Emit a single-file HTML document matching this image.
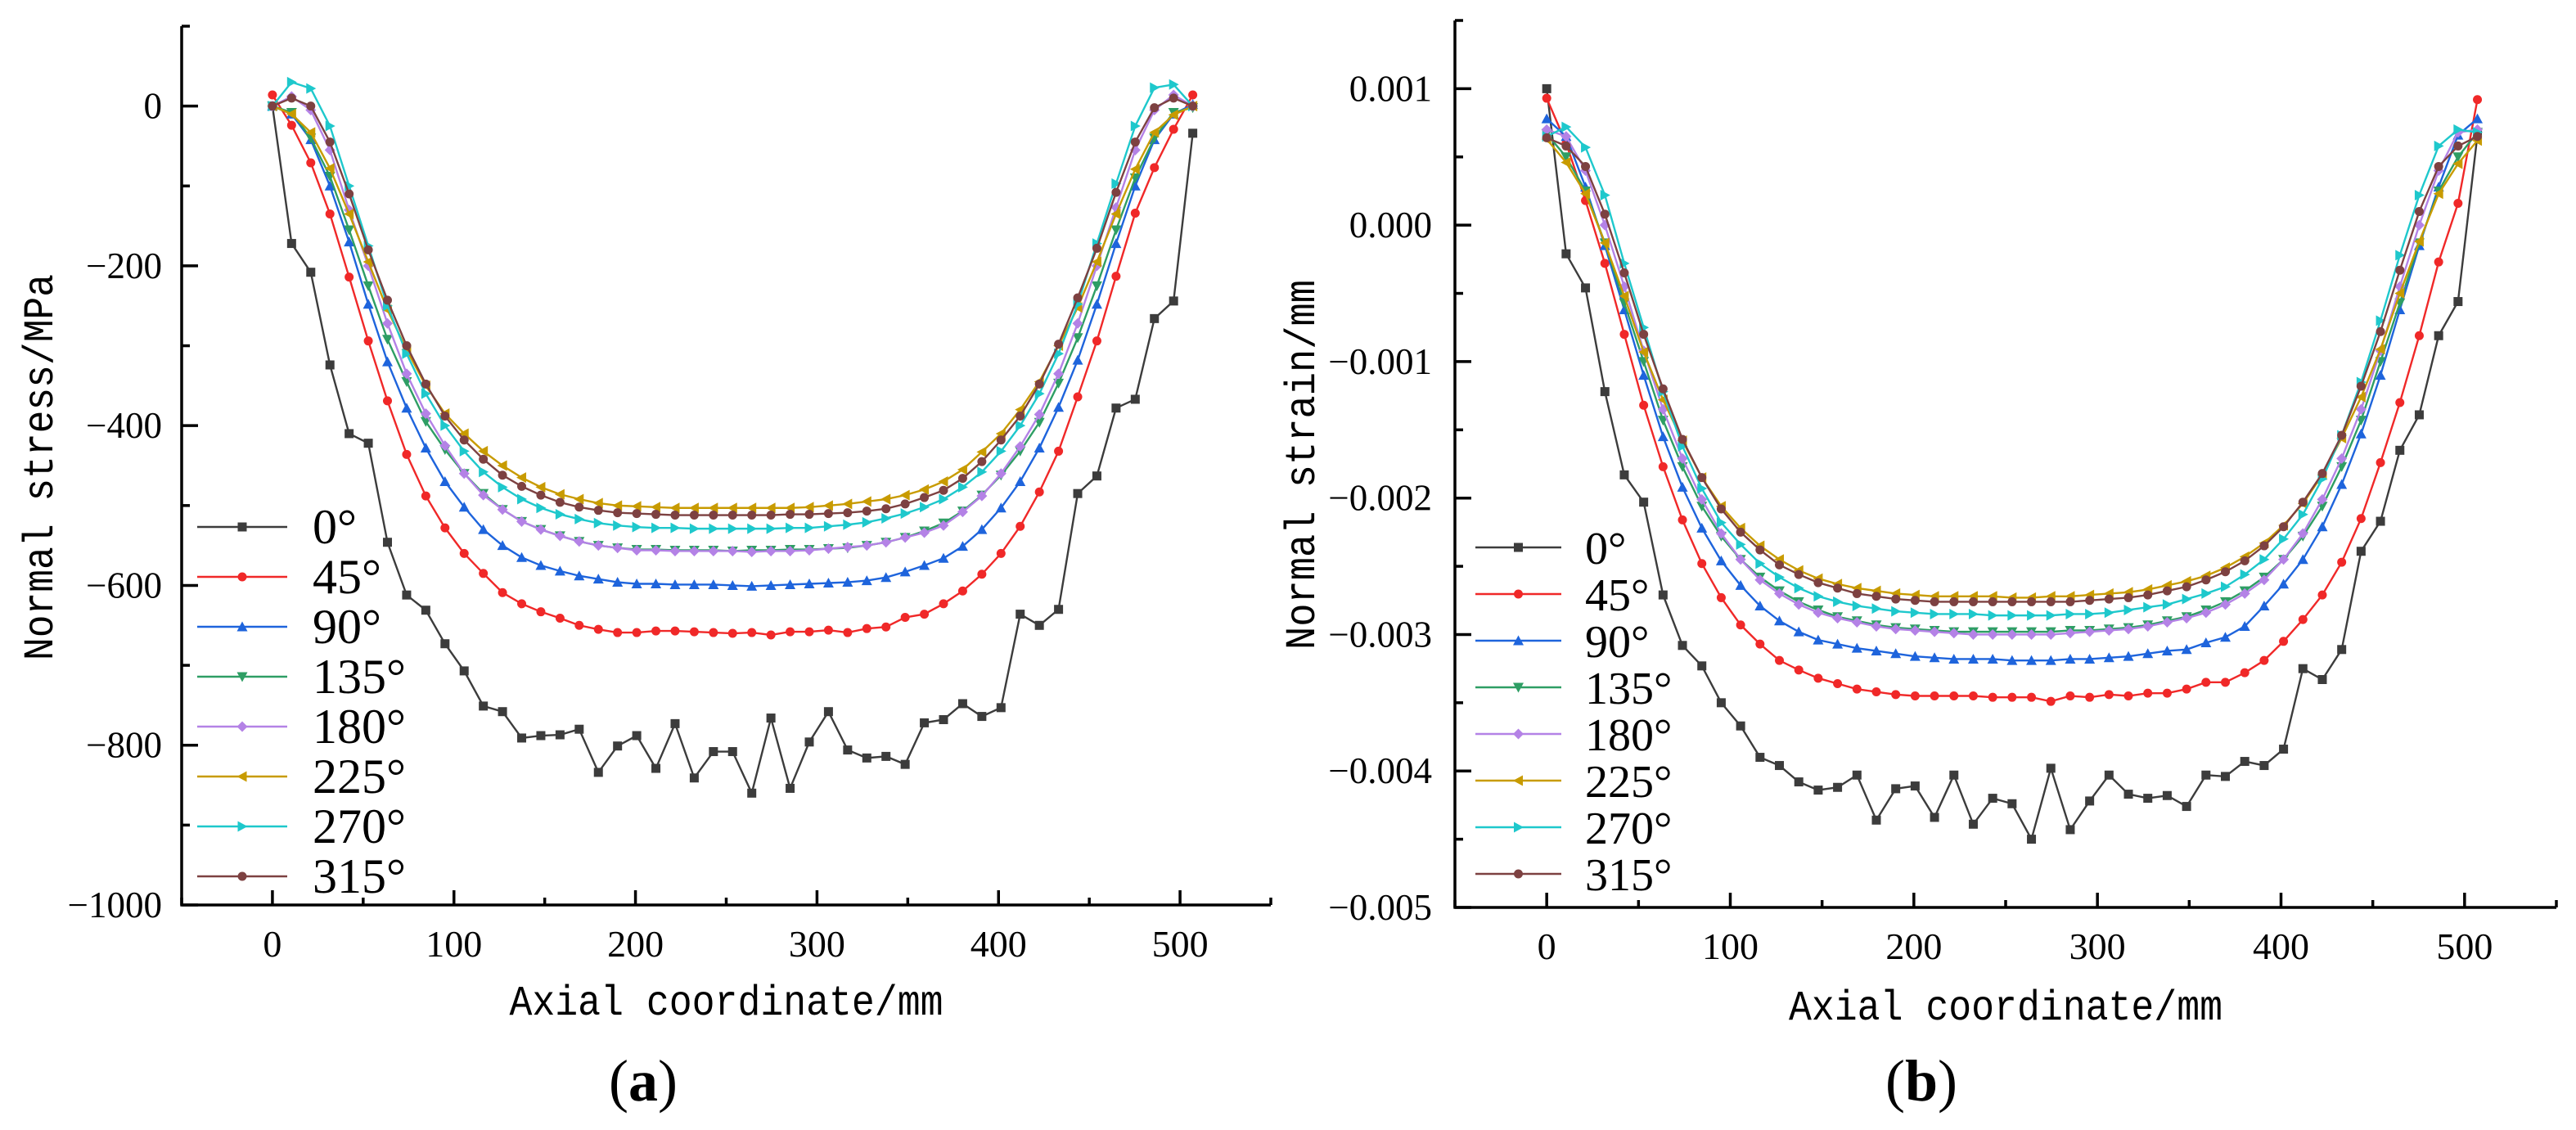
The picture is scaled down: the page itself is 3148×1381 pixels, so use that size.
<!DOCTYPE html>
<html><head><meta charset="utf-8"><style>
html,body{margin:0;padding:0;background:#fff;overflow:hidden;}
svg{display:block;}
text{font-family:"Liberation Serif",serif;fill:#000;}
.mono{font-family:"Liberation Mono",monospace;}
</style></head><body>
<svg id="fig" width="3148" height="1381" viewBox="0 0 3148 1381" xmlns="http://www.w3.org/2000/svg"></svg>
<script>
const xs = Array.from({length:49},(_, i)=>i*507/48);
const seriesNames = ["0°","45°","90°","135°","180°","225°","270°","315°"];
const xTicks = [0,100,200,300,400,500];
const stressTicks = [0,-200,-400,-600,-800,-1000];
const stressTickLabels = ["0","−200","−400","−600","−800","−1000"];
const strainTicks = [0.001,0,-0.001,-0.002,-0.003,-0.004,-0.005];
const strainTickLabels = ["0.001","0.000","−0.001","−0.002","−0.003","−0.004","−0.005"];

const s0=[0,-172,-208,-324,-410,-422,-546,-612,-631,-673,-707,-751,-758,-791,-788,-787,-780,-834,-801,-788,-829,-773,-841,-808,-808,-860,-766,-854,-796,-758,-806,-816,-814,-824,-772,-768,-748,-764,-753,-636,-650,-630,-485,-463,-378,-367,-266,-244,-34];
const s45=[14,-24,-71,-135,-214,-294,-369,-436,-488,-528,-560,-585,-609,-623,-633,-641,-650,-655,-659,-659,-657,-657,-658,-659,-660,-659,-662,-658,-658,-656,-659,-654,-652,-640,-636,-623,-607,-586,-560,-526,-483,-432,-364,-294,-213,-134,-77,-29,14];
const s90=[0,-10,-42,-100,-170,-248,-320,-378,-428,-470,-502,-530,-550,-565,-575,-582,-588,-592,-596,-598,-598,-599,-599,-599,-600,-601,-600,-599,-598,-597,-596,-594,-590,-583,-575,-566,-551,-530,-503,-470,-428,-377,-318,-248,-172,-100,-42,-10,2];
const s135=[0,-8,-40,-88,-155,-225,-292,-345,-395,-430,-460,-485,-505,-520,-530,-538,-545,-550,-553,-555,-555,-556,-556,-556,-557,-556,-556,-555,-555,-554,-553,-550,-546,-540,-532,-522,-507,-487,-462,-432,-396,-347,-290,-225,-155,-90,-40,-8,-2];
const s180=[0,12,-5,-55,-130,-200,-272,-335,-385,-425,-460,-487,-505,-520,-530,-538,-545,-550,-553,-556,-556,-557,-557,-557,-557,-558,-557,-557,-556,-554,-552,-550,-546,-540,-534,-525,-508,-488,-460,-426,-386,-335,-272,-200,-127,-55,-5,14,0];
const s225=[0,-10,-33,-78,-135,-195,-255,-305,-350,-385,-410,-432,-450,-465,-477,-486,-492,-497,-500,-501,-502,-503,-503,-503,-503,-503,-503,-503,-502,-500,-498,-495,-492,-487,-480,-470,-455,-433,-410,-380,-345,-300,-252,-195,-135,-79,-33,-11,0];
const s270=[0,30,22,-25,-100,-175,-250,-310,-360,-400,-432,-458,-477,-492,-503,-511,-517,-522,-525,-527,-528,-528,-529,-529,-529,-529,-529,-528,-528,-526,-524,-521,-516,-510,-502,-492,-477,-458,-432,-400,-360,-310,-248,-172,-97,-25,23,27,0];
const s315=[0,10,0,-45,-110,-180,-243,-300,-348,-388,-418,-442,-462,-476,-487,-496,-502,-506,-509,-510,-511,-512,-512,-512,-512,-512,-512,-511,-511,-510,-509,-507,-504,-498,-490,-481,-466,-445,-418,-388,-348,-298,-240,-178,-108,-45,-2,10,0];

const e0=[0.001,-0.00021,-0.00046,-0.00122,-0.00183,-0.00203,-0.00271,-0.00308,-0.00323,-0.0035,-0.00367,-0.0039,-0.00396,-0.00408,-0.00414,-0.00412,-0.00403,-0.00436,-0.00413,-0.00411,-0.00434,-0.00403,-0.00439,-0.0042,-0.00424,-0.0045,-0.00398,-0.00443,-0.00422,-0.00403,-0.00417,-0.0042,-0.00418,-0.00426,-0.00403,-0.00404,-0.00393,-0.00396,-0.00384,-0.00325,-0.00333,-0.00311,-0.00239,-0.00217,-0.00165,-0.00139,-0.00081,-0.00056,0.00066];
const e45=[0.00093,0.0006,0.00018,-0.00028,-0.0008,-0.00132,-0.00177,-0.00216,-0.00248,-0.00273,-0.00293,-0.00307,-0.00319,-0.00326,-0.00332,-0.00336,-0.0034,-0.00342,-0.00344,-0.00345,-0.00345,-0.00345,-0.00345,-0.00346,-0.00346,-0.00346,-0.00349,-0.00345,-0.00346,-0.00344,-0.00345,-0.00343,-0.00343,-0.0034,-0.00335,-0.00335,-0.00328,-0.00319,-0.00305,-0.00289,-0.00271,-0.00247,-0.00215,-0.00174,-0.0013,-0.00081,-0.00027,0.00016,0.00092];
const e90=[0.00078,0.00065,0.00028,-0.00015,-0.00062,-0.0011,-0.00155,-0.00192,-0.00222,-0.00246,-0.00264,-0.00279,-0.0029,-0.00298,-0.00304,-0.00307,-0.0031,-0.00312,-0.00314,-0.00316,-0.00317,-0.00318,-0.00318,-0.00318,-0.00319,-0.00319,-0.00319,-0.00318,-0.00318,-0.00317,-0.00316,-0.00314,-0.00312,-0.00311,-0.00306,-0.00302,-0.00294,-0.00279,-0.00263,-0.00245,-0.00221,-0.0019,-0.00153,-0.0011,-0.00062,-0.00015,0.00028,0.00066,0.00078];
const e135=[0.00067,0.0005,0.00025,-0.00013,-0.00057,-0.001,-0.00143,-0.00177,-0.00206,-0.00228,-0.00245,-0.00258,-0.00268,-0.00276,-0.00282,-0.00287,-0.0029,-0.00293,-0.00295,-0.00296,-0.00297,-0.00298,-0.00298,-0.00298,-0.00298,-0.00298,-0.00298,-0.00297,-0.00297,-0.00296,-0.00295,-0.00293,-0.0029,-0.00287,-0.00282,-0.00276,-0.00268,-0.00258,-0.00245,-0.00228,-0.00206,-0.00177,-0.00143,-0.001,-0.00057,-0.00013,0.00025,0.0005,0.00068];
const e180=[0.0007,0.00065,0.0004,0.0,-0.00045,-0.00092,-0.00135,-0.00171,-0.00201,-0.00226,-0.00245,-0.0026,-0.0027,-0.00278,-0.00284,-0.00288,-0.00291,-0.00294,-0.00296,-0.00297,-0.00298,-0.00299,-0.003,-0.003,-0.003,-0.003,-0.003,-0.00299,-0.00298,-0.00297,-0.00296,-0.00294,-0.00291,-0.00288,-0.00284,-0.00278,-0.0027,-0.0026,-0.00245,-0.00226,-0.00201,-0.00171,-0.00135,-0.00092,-0.00045,0.0,0.0004,0.00068,0.0007];
const e225=[0.00063,0.00046,0.00023,-0.00013,-0.00052,-0.00093,-0.00128,-0.00158,-0.00185,-0.00206,-0.00222,-0.00235,-0.00245,-0.00253,-0.00259,-0.00263,-0.00266,-0.00268,-0.0027,-0.00271,-0.00272,-0.00272,-0.00272,-0.00272,-0.00273,-0.00273,-0.00272,-0.00272,-0.00271,-0.0027,-0.00269,-0.00267,-0.00264,-0.00261,-0.00257,-0.00251,-0.00243,-0.00233,-0.0022,-0.00204,-0.00183,-0.00156,-0.00126,-0.00091,-0.0005,-0.00012,0.00023,0.00045,0.00062];
const e270=[0.00065,0.00072,0.00057,0.00022,-0.00028,-0.00075,-0.00122,-0.00162,-0.00193,-0.00218,-0.00234,-0.00248,-0.00258,-0.00266,-0.00272,-0.00276,-0.00279,-0.00281,-0.00283,-0.00284,-0.00285,-0.00285,-0.00285,-0.00286,-0.00286,-0.00286,-0.00286,-0.00285,-0.00285,-0.00284,-0.00282,-0.0028,-0.00278,-0.00274,-0.0027,-0.00265,-0.00256,-0.00245,-0.0023,-0.00212,-0.00186,-0.00154,-0.00115,-0.0007,-0.00022,0.00022,0.00058,0.0007,0.00068];
const e315=[0.00064,0.00058,0.00043,0.00008,-0.00035,-0.0008,-0.0012,-0.00157,-0.00185,-0.00208,-0.00225,-0.00238,-0.00249,-0.00256,-0.00262,-0.00266,-0.0027,-0.00272,-0.00274,-0.00275,-0.00276,-0.00276,-0.00276,-0.00276,-0.00276,-0.00276,-0.00276,-0.00276,-0.00275,-0.00274,-0.00273,-0.00271,-0.00268,-0.00265,-0.0026,-0.00254,-0.00246,-0.00235,-0.00221,-0.00203,-0.00182,-0.00154,-0.00118,-0.00078,-0.00033,0.0001,0.00043,0.00058,0.00065];

const colors=["#3c3c3c","#f02828","#1e64dc","#2e9e64","#b482e6","#c89b00","#1ec8cc","#7d4141"];
const markers=["square","circle","up","down","diamond","left","right","circle"];
const NS="http://www.w3.org/2000/svg";
const svg=document.getElementById('fig');
function mk(tag,attrs,parent){const e=document.createElementNS(NS,tag);for(const k in attrs)e.setAttribute(k,attrs[k]);(parent||svg).appendChild(e);return e;}

function marker(g,type,x,y,c){
  const r=5.5;let e;
  if(type==="square") e=mk('rect',{x:x-r,y:y-r,width:2*r,height:2*r,fill:c},g);
  else if(type==="circle") e=mk('circle',{cx:x,cy:y,r:r,fill:c},g);
  else {
    let p;
    if(type==="up") p=[[x,y-r-1],[x+r+1,y+r],[x-r-1,y+r]];
    if(type==="down") p=[[x,y+r+1],[x+r+1,y-r],[x-r-1,y-r]];
    if(type==="left") p=[[x-r-1,y],[x+r,y-r-1],[x+r,y+r+1]];
    if(type==="right") p=[[x+r+1,y],[x-r,y-r-1],[x-r,y+r+1]];
    if(type==="diamond") p=[[x,y-r-1],[x+r+1,y],[x,y+r+1],[x-r-1,y]];
    e=mk('polygon',{points:p.map(q=>q.join(',')).join(' '),fill:c},g);
  }
  
  
}

function panel(cfg){
  const g=mk('g',{});
  
  
  const X=v=>cfg.x0+(v-cfg.xmin)/(cfg.xmax-cfg.xmin)*(cfg.x1-cfg.x0);
  const Y=v=>cfg.y1-(v-cfg.ymin)/(cfg.ymax-cfg.ymin)*(cfg.y1-cfg.y0);
  cfg.data.forEach((arr,si)=>{
    const sg=mk('g',{},g);
    
    
    const pl=mk('polyline',{points:arr.map((v,i)=>X(xs[i])+','+Y(v)).join(' '),fill:'none',stroke:colors[si],'stroke-width':2.4},sg);
    
    
    arr.forEach((v,i)=>marker(sg,markers[si],X(xs[i]),Y(v),colors[si]));
  });
  const ax=mk('g',{stroke:'#000','stroke-width':3.5,fill:'none'},g);
  
  
  mk('line',{x1:cfg.x0,y1:cfg.y0,x2:cfg.x0,y2:cfg.y1+1.5},ax);
  mk('line',{x1:cfg.x0-1.5,y1:cfg.y1,x2:cfg.x1,y2:cfg.y1},ax);
  for(let v=cfg.xmin;v<=cfg.xmax;v+=50){const major=v%100===0&&v>=0&&v<=500;mk('line',{x1:X(v),y1:cfg.y1,x2:X(v),y2:cfg.y1-(major?18:9)},ax);}
  xTicks.forEach(v=>{const t=mk('text',{x:X(v),y:cfg.y1+63,'text-anchor':'middle','font-size':46},g);t.textContent=v;});
  for(let v=cfg.ymin;v<=cfg.ymax+1e-12;v+=cfg.minor){const isMajor=cfg.ticks.some(t=>Math.abs(t-v)<cfg.minor/10);mk('line',{x1:cfg.x0,y1:Y(v),x2:cfg.x0+(isMajor?20:10),y2:Y(v)},ax);}
  cfg.ticks.forEach((v,i)=>{const t=mk('text',{x:cfg.x0-cfg.labGap,y:Y(v)+15,'text-anchor':'end','font-size':45},g);t.textContent=cfg.tickLabels[i];});
  const xt=mk('text',{x:(X(0)+X(500))/2,y:cfg.xtY,'text-anchor':'middle','font-size':52,class:'mono',textLength:530,lengthAdjust:'spacingAndGlyphs'},g);
  xt.textContent='Axial coordinate/mm';
  const yt=mk('text',{x:0,y:0,'text-anchor':'middle','font-size':52,class:'mono',textLength:cfg.ytLen,lengthAdjust:'spacingAndGlyphs',transform:`translate(${cfg.ytX},${cfg.ytY}) rotate(-90)`},g);
  yt.textContent=cfg.ytitle;
  const lg=mk('g',{},g);
  seriesNames.forEach((n,i)=>{
    const y=cfg.legY+i*cfg.legDy;
    const eg=mk('g',{},lg);
    mk('line',{x1:cfg.legX,y1:y,x2:cfg.legX+cfg.legW,y2:y,stroke:colors[i],'stroke-width':2.4},eg);
    marker(eg,markers[i],cfg.legX+cfg.legW/2,y,colors[i]);
    const t=mk('text',{x:cfg.legTX,y:y+20,'font-size':cfg.legFs},eg);t.textContent=n;
  });
  const pl=mk('text',{x:cfg.labX,y:1345,'text-anchor':'middle','font-size':72},g);
  pl.innerHTML='('+'<tspan font-weight="bold">'+cfg.label+'</tspan>)';
  
}

panel({name:'stress-chart',x0:222,x1:1553,y0:32,y1:1106,xmin:-50,xmax:550,ymin:-1000,ymax:100,minor:100,
  ticks:stressTicks,tickLabels:stressTickLabels,data:[s0,s45,s90,s135,s180,s225,s270,s315],
  ytitle:'Normal stress/MPa',ytX:64,ytY:571,ytLen:472,labGap:24,xtY:1240,
  legX:241,legW:110,legY:644,legDy:61,legTX:382,legFs:60,labX:786,label:'a'});
panel({name:'strain-chart',x0:1778,x1:3124,y0:25,y1:1109,xmin:-50,xmax:550,ymin:-0.005,ymax:0.0015,minor:0.0005,
  ticks:strainTicks,tickLabels:strainTickLabels,data:[e0,e45,e90,e135,e180,e225,e270,e315],
  ytitle:'Normal strain/mm',ytX:1606,ytY:568,ytLen:452,labGap:28,xtY:1246,
  legX:1803,legW:105,legY:669,legDy:57,legTX:1937,legFs:56,labX:2348,label:'b'});
</script>
</body></html>
